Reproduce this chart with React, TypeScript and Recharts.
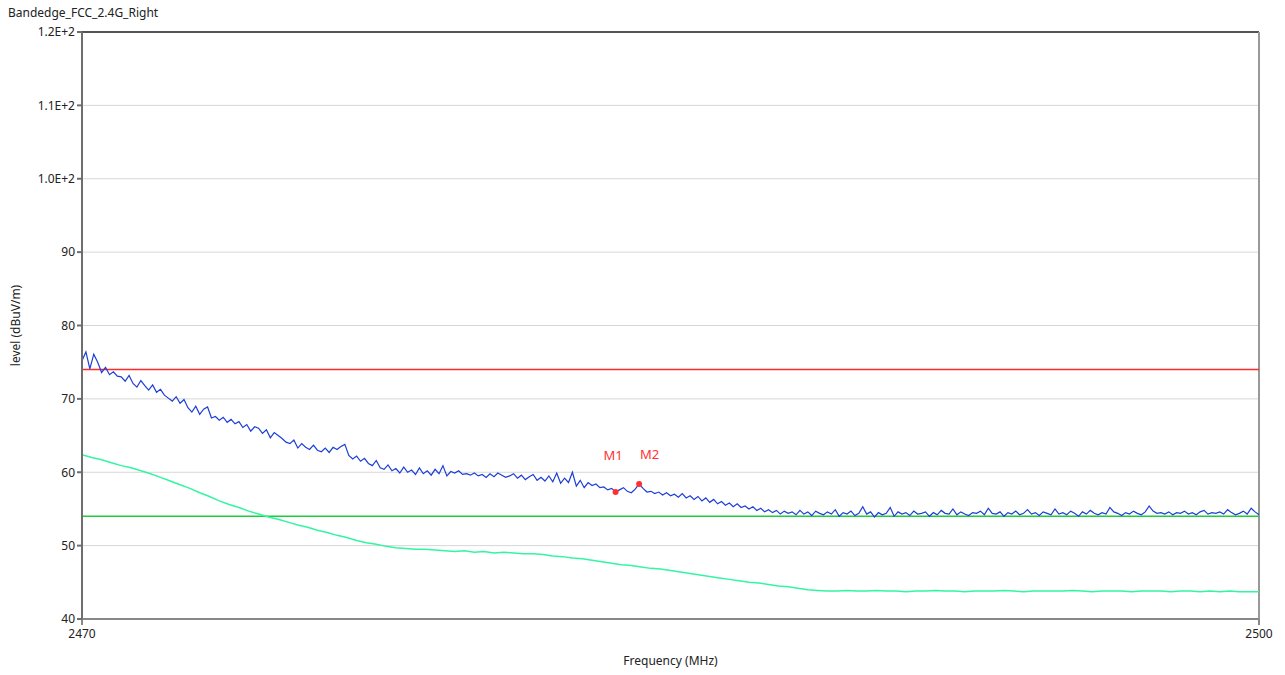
import {
  LineChart,
  Line,
  XAxis,
  YAxis,
  CartesianGrid,
  ReferenceLine,
  Scatter,
  LabelList,
} from 'recharts';

// measured trace, 2470..2500 MHz in 0.1 MHz steps
const blueLevels = [
  75.2, 76.4, 74.1, 76.1, 75.0, 73.6, 74.3, 73.3, 73.7, 73.1,
  73.0, 72.4, 73.2, 72.1, 71.6, 72.5, 71.8, 71.2, 71.9, 70.9,
  71.3, 70.5, 70.1, 69.7, 70.3, 69.4, 69.9, 68.8, 68.2, 69.0,
  67.9, 68.6, 68.9, 67.4, 67.6, 67.1, 67.5, 66.8, 67.2, 66.6,
  66.9, 66.1, 66.5, 65.6, 66.2, 66.0, 65.3, 65.8, 64.7, 65.4,
  65.0, 64.6, 64.1, 63.9, 64.4, 63.3, 63.9, 63.4, 63.1, 63.7,
  63.0, 62.8, 63.3, 62.7, 63.4, 63.1, 63.5, 63.8, 62.3, 61.8,
  62.2, 61.5, 61.9, 61.2, 60.9, 61.6, 60.6, 60.4, 61.0, 60.2,
  60.5, 59.9, 60.7, 60.0, 60.3, 59.7, 60.6, 59.8, 60.2, 59.6,
  60.4, 59.8, 60.9, 59.5, 60.1, 59.9, 60.2, 59.7, 59.8, 59.6,
  59.9, 59.5, 59.7, 59.3, 59.8, 59.4, 59.9, 59.6, 59.3, 59.5,
  59.8, 59.2, 59.6, 59.0, 59.4, 59.7, 58.9, 59.3, 58.8, 59.5,
  58.7, 59.9, 58.5, 59.2, 58.6, 60.0, 58.1, 58.9, 57.9, 58.6,
  58.2, 58.4, 57.9, 58.0, 57.6, 57.8, 57.3, 57.6, 57.9, 57.4,
  57.2, 57.7, 58.4, 57.8, 57.3, 57.4, 57.1, 57.3, 56.9, 57.2,
  56.8, 57.0, 56.6, 57.1, 56.5, 56.8, 56.3, 56.7, 56.1, 56.5,
  55.9, 56.3, 55.7, 56.0, 55.5, 55.8, 55.3, 55.7, 55.2, 55.4,
  55.0, 55.3, 54.8, 55.1, 54.6, 54.9, 54.5, 54.8, 54.3, 54.7,
  54.4, 54.6, 54.2, 54.8, 54.3, 54.6, 54.1, 54.7, 54.4, 54.2,
  54.6, 54.3, 54.9, 54.0, 54.5, 54.3, 54.7, 54.1, 54.4, 55.3,
  54.3, 54.6, 53.9, 54.5, 54.2, 54.4, 55.2, 54.0, 54.6, 54.3,
  54.5, 54.1, 54.7, 54.3, 54.4, 54.6, 54.0, 54.5, 54.2, 54.8,
  54.4, 54.3, 55.0, 54.2, 54.6, 54.3, 54.1, 54.5, 54.4, 54.7,
  54.2, 55.1, 54.4, 54.3, 54.6, 54.0, 54.5, 54.3, 54.7, 54.2,
  54.4, 54.9, 54.3, 54.5, 54.1, 54.6, 54.4, 54.2, 55.0, 54.3,
  54.5, 54.2, 54.7, 54.4, 54.0, 54.6, 54.3, 54.8, 54.4, 54.2,
  54.5, 54.3, 55.2, 54.6, 54.4, 54.1, 54.5, 54.3, 54.7, 54.4,
  54.2, 54.6, 55.4, 54.7, 54.4, 54.5, 54.3, 54.6, 54.2, 54.5,
  54.4, 54.7, 54.3, 54.5, 54.2, 54.6, 54.8, 54.3, 54.5, 54.4,
  54.6, 54.3, 54.9, 54.5, 54.2, 54.4, 54.7, 54.3, 55.1, 54.6,
  54.2,
];

// second trace, 0.25 MHz steps
const greenLevels = [
  62.4, 62.0, 61.7, 61.3, 60.9, 60.6, 60.2, 59.8, 59.3, 58.8,
  58.3, 57.8, 57.2, 56.7, 56.1, 55.6, 55.2, 54.7, 54.3, 53.9,
  53.6, 53.2, 52.8, 52.5, 52.1, 51.8, 51.4, 51.1, 50.7, 50.4,
  50.2, 49.9, 49.7, 49.6, 49.5, 49.5, 49.4, 49.3, 49.2, 49.3,
  49.1, 49.2, 49.0, 49.1, 49.0, 48.9, 48.9, 48.8, 48.6, 48.5,
  48.3, 48.2, 48.0, 47.8, 47.6, 47.4, 47.3, 47.1, 46.9, 46.8,
  46.6, 46.4, 46.2, 46.0, 45.8, 45.6, 45.4, 45.2, 45.0, 44.9,
  44.7, 44.5, 44.4, 44.2, 44.0, 43.9, 43.8, 43.8, 43.9, 43.8,
  43.8, 43.9, 43.8, 43.8, 43.7, 43.8, 43.8, 43.9, 43.8, 43.8,
  43.7, 43.8, 43.8, 43.8, 43.9, 43.8, 43.7, 43.8, 43.8, 43.8,
  43.8, 43.9, 43.8, 43.7, 43.8, 43.8, 43.8, 43.7, 43.8, 43.8,
  43.8, 43.7, 43.8, 43.8, 43.7, 43.8, 43.7, 43.8, 43.7, 43.7,
  43.7,
];

const markerNames = ['M1', 'M2'];
const markerFreqs = [2483.6, 2484.2];
const markerLevels = [57.3, 58.4];

const limitPeak = 74;
const limitAvg = 54;
const yTicks = [40, 50, 60, 70, 80, 90, 100, 110, 120];
const xTicks = [2470, 2500];

const blueData = blueLevels.map((v, i) => ({ f: 2470 + i * 0.1, v }));
const greenData = greenLevels.map((v, i) => ({ f: 2470 + i * 0.25, v }));
const markerData = markerNames.map((name, i) => ({
  f: markerFreqs[i],
  v: markerLevels[i],
  name,
}));

const FONT = '"Noto Sans", "Open Sans", sans-serif';

const fmtY = (v: number) => (v >= 100 ? `${(v / 100).toFixed(1)}E+2` : `${v}`);

export default function App() {
  return (
    <div style={{ position: 'absolute', left: 0, top: 0, width: 1285, height: 675, background: '#fff', fontFamily: FONT }}>
      <div style={{ position: 'absolute', left: 8, top: 4, fontSize: 12, color: '#222', whiteSpace: 'nowrap' }}>
        Bandedge_FCC_2.4G_Right
      </div>
      <LineChart
        width={1285}
        height={675}
        margin={{ top: 32, right: 26, bottom: 26, left: 0 }}
        style={{ fontFamily: FONT }}
      >
        <CartesianGrid vertical={false} stroke="#d6d6d6" strokeWidth={1} />
        <XAxis
          type="number"
          dataKey="f"
          domain={[2470, 2500]}
          ticks={xTicks}
          allowDataOverflow
          height={30}
          tickSize={6}
          tickMargin={4}
          stroke="#888"
          strokeWidth={2}
          tick={{ fill: '#222', fontSize: 12 }}
          label={{ value: 'Frequency (MHz)', position: 'insideBottom', offset: -16, fill: '#222', fontSize: 12 }}
        />
        <YAxis
          type="number"
          dataKey="v"
          domain={[40, 120]}
          ticks={yTicks}
          allowDataOverflow
          width={82}
          tickSize={5}
          tickMargin={2}
          tickFormatter={fmtY}
          stroke="#6e6e6e"
          strokeWidth={2}
          tick={{ fill: '#222', fontSize: 12 }}
          label={{ value: 'level (dBuV/m)', angle: -90, position: 'insideLeft', offset: 16, fill: '#222', fontSize: 12, style: { textAnchor: 'middle' } }}
        />
        <ReferenceLine y={120} stroke="#222" strokeWidth={1.5} />
        <ReferenceLine x={2500} stroke="#999" strokeWidth={2} />
        <ReferenceLine y={limitPeak} stroke="#ff2a2a" strokeWidth={1.5} />
        <ReferenceLine y={limitAvg} stroke="#1fcc3a" strokeWidth={1.5} />
        <Line
          data={greenData}
          dataKey="v"
          stroke="#33f5a2"
          strokeWidth={1.5}
          dot={false}
          isAnimationActive={false}
        />
        <Line
          data={blueData}
          dataKey="v"
          stroke="#1d3fd4"
          strokeWidth={1.2}
          dot={false}
          isAnimationActive={false}
        />
        <Scatter data={markerData} dataKey="v" fill="#ff3030" isAnimationActive={false} shape={(p: any) => <circle cx={p.cx} cy={p.cy} r={3} fill="#ff3030" />}>
          <LabelList
            dataKey="name"
            content={(p: any) => (
              <text x={p.x + (p.index === 1 ? 15 : 2)} y={p.y - (p.index === 1 ? 20 : 28)} fill="#ff3333" fontSize={13} textAnchor="middle">
                {p.value}
              </text>
            )}
          />
        </Scatter>
      </LineChart>
    </div>
  );
}
